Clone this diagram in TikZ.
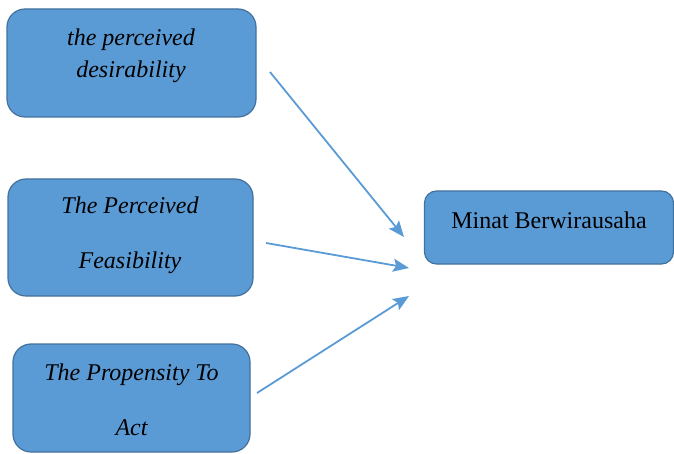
\documentclass[tikz,border=0pt]{standalone}
\usepackage{fontspec}
\setmainfont{Liberation Serif}
\usetikzlibrary{arrows.meta}
\definecolor{boxfill}{HTML}{5B9BD5}
\definecolor{boxline}{HTML}{41719C}
\begin{document}
\begin{tikzpicture}[x=1pt,y=-1pt,
  box/.style={draw=boxline,fill=boxfill,line width=1.2pt,rounded corners=18pt,inner sep=0pt},
  lbl/.style={font=\fontsize{24}{32}\selectfont\itshape,align=center,inner sep=0pt},
  conn/.style={draw=boxfill,line width=1.8pt,-{Stealth[length=16pt,width=13pt,inset=3pt]}}]
\useasboundingbox (0,0) rectangle (674,454);
\node[box,minimum width=249pt,minimum height=108pt] (b1) at (131.5,63) {};
\node[lbl] (t1) at (131,56) {the perceived\\desirability};
\node[box,minimum width=245pt,minimum height=117pt] (b2) at (130.5,237.5) {};
\node[lbl,font=\fontsize{24}{55}\selectfont\itshape] (t2) at (130,235.5) {The Perceived\\Feasibility};
\node[box,minimum width=237pt,minimum height=108pt] (b3) at (131.5,398) {};
\node[lbl,font=\fontsize{24}{55}\selectfont\itshape] (t3) at (131.5,399.5) {The Propensity To\\Act};
\node[box,minimum width=249pt,minimum height=73pt,rounded corners=12pt] (b4) at (549,227.5) {};
\node[lbl,font=\fontsize{24}{25}\selectfont] (t4) at (549,220) {Minat Berwirausaha};
\coordinate (s1) at (270,72); \coordinate (e1) at (404,237);
\coordinate (s2) at (266,243); \coordinate (e2) at (409,268);
\coordinate (s3) at (257,393); \coordinate (e3) at (409,296);
\draw[conn] (s1) -- (e1);
\draw[conn] (s2) -- (e2);
\draw[conn] (s3) -- (e3);
\end{tikzpicture}
\end{document}
